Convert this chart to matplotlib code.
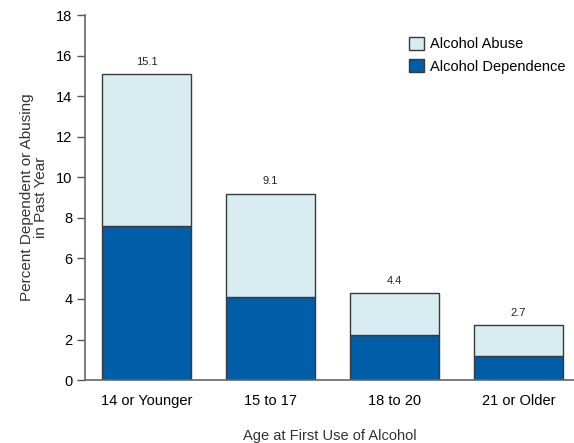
import numpy as np
import matplotlib
matplotlib.use('Agg')
import matplotlib.pyplot as plt
from matplotlib.patches import Patch

plt.rcParams['font.family'] = ['Liberation Sans', 'DejaVu Sans']

# DATA
age_groups = ['14 or Younger', '15 to 17', '18 to 20', '21 or Older']
dependence = [7.6, 4.1, 2.2, 1.2]
abuse = [7.5, 5.1, 2.1, 1.5]
total_labels = ['15.1', '9.1', '4.4', '2.7']
yticks = [0, 2, 4, 6, 8, 10, 12, 14, 16, 18]

dark_blue = '#005DA8'
light_blue = '#D7EDF2'
edge = '#3a3a3a'

fig = plt.figure(figsize=(5.74, 4.43), dpi=100)
ax = fig.add_axes([0.148, 0.142, 0.852, 0.824])

x = np.arange(len(age_groups))
w = 0.72
ax.bar(x, dependence, width=w, color=dark_blue, edgecolor=edge, linewidth=1.0)
ax.bar(x, abuse, width=w, bottom=dependence, color=light_blue, edgecolor=edge, linewidth=1.0)

tops = np.array(dependence) + np.array(abuse)
for xi, top, lab in zip(x, tops, total_labels):
    ax.text(xi, top + 0.35, lab, ha='center', va='bottom', fontsize=8, color='#222222')

ax.set_xlim(-0.5, 3.45)
ax.set_ylim(0, 18)
ax.set_yticks(yticks)
ax.set_xticks(x)
ax.set_xticklabels(age_groups, fontsize=10.5)
ax.tick_params(axis='y', length=6, width=1, color='#555555', labelsize=10.5, pad=3)
ax.tick_params(axis='x', length=0, pad=10)

for s in ['top', 'right']:
    ax.spines[s].set_visible(False)
for s in ['left', 'bottom']:
    ax.spines[s].set_color('#666666')
    ax.spines[s].set_linewidth(1.2)

ax.set_ylabel('Percent Dependent or Abusing\nin Past Year', fontsize=11, color='#333333',
              linespacing=0.95, labelpad=6)
ax.set_xlabel('Age at First Use of Alcohol', fontsize=10.5, color='#333333', labelpad=15)

handles = [Patch(facecolor=light_blue, edgecolor=edge, label='Alcohol Abuse'),
           Patch(facecolor=dark_blue, edgecolor=edge, label='Alcohol Dependence')]
ax.legend(handles=handles, loc='upper right', bbox_to_anchor=(1.0, 0.965), frameon=False,
          fontsize=10.5, handlelength=1.0, handleheight=1.0, handletextpad=0.4,
          labelspacing=0.55, borderaxespad=0.2)

fig.savefig('out.png', dpi=100)
